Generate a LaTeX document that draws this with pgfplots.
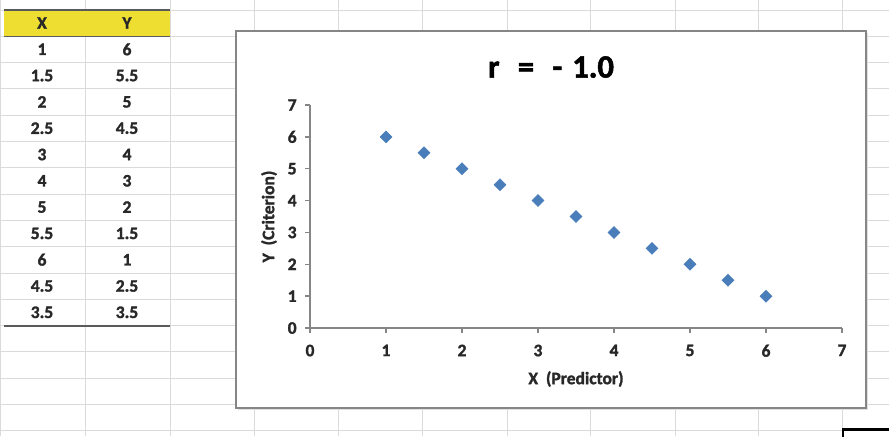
\documentclass[border=0pt]{standalone}
\usepackage{pgfplots}
\pgfplotsset{compat=1.18}
\usepackage{fontspec}
\setmainfont{Carlito}[BoldFeatures={FakeBold=1.6}]

\definecolor{gridc}{RGB}{218,218,218}
\definecolor{hdr}{RGB}{238,222,50}
\definecolor{darkb}{RGB}{90,90,90}
\definecolor{chartb}{RGB}{134,134,134}
\definecolor{axisc}{RGB}{134,134,134}
\definecolor{markc}{RGB}{74,126,187}
\definecolor{celltxt}{RGB}{40,40,40}

\begin{document}
\begin{tikzpicture}[x=0.6pt,y=-0.6pt]
\useasboundingbox (0,0) rectangle (889,436);
\clip (0,0) rectangle (889,436);

% sheet grid
\foreach \k in {0,...,16}
  \draw[gridc, line width=0.6pt] (0,{10+26.3*\k}) -- (889,{10+26.3*\k});
\foreach \c in {1,85,170,254,338,422,507,590,675,758,842}
  \draw[gridc, line width=0.6pt] (\c,0) -- (\c,436);

% table header
\fill[hdr] (4,10) rectangle (170,36.3);
\draw[darkb, line width=0.9pt] (4,10) -- (170,10);
\draw[darkb, line width=0.9pt] (4,36.3) -- (170,36.3);
\draw[darkb, line width=1.1pt] (4,325.6) -- (170,325.6);

% table text
\begin{scope}[every node/.style={font=\fontsize{10.5}{12}\selectfont\bfseries, text=celltxt}]
\node at (42,23) {X};
\node at (127,23) {Y};
\foreach \xv/\yv [count=\i] in {1/6,1.5/5.5,2/5,2.5/4.5,3/4,4/3,5/2,5.5/1.5,6/1,4.5/2.5,3.5/3.5}{
  \node at (42,{23+26.3*\i}) {\xv};
  \node at (127,{23+26.3*\i}) {\yv};
}
\end{scope}

% selected cell
\draw[black, line width=1.4pt] (843,429.5) rectangle (900,450);

% chart area
\fill[black!12] (238,33) rectangle (868,410);
\filldraw[fill=white, draw=chartb, line width=0.7pt] (236,31) rectangle (866,408);

\node[font=\fontsize{19.5}{23}\selectfont\bfseries] at (551,67) {r\hspace{11pt}=\hspace{11pt}-\hspace{6pt}1.0};

\coordinate (O) at (310,328);
\begin{axis}[
    at={(O)}, anchor=south west,
    scale only axis,
    width=319.2pt, height=133.8pt,
    xmin=0, xmax=7, ymin=0, ymax=7,
    xtick={0,1,2,3,4,5,6,7},
    ytick={0,1,2,3,4,5,6,7},
    axis x line*=bottom,
    axis y line*=left,
    axis line style={-, draw=axisc, line width=0.8pt},
    tick align=outside,
    major tick length=3pt,
    tick style={draw=axisc, line width=0.8pt},
    /pgf/number format/assume math mode=true,
    tick label style={font=\fontsize{10.5}{12}\selectfont\bfseries, text=celltxt},
    xticklabel style={yshift=-3.5pt},
    yticklabel style={xshift=-1.5pt},
    xlabel={X\ \ (Predictor)},
    ylabel={Y\ \ (Criterion)},
    every axis x label/.style={at={(axis description cs:0.5,0)}, anchor=center,
        yshift=-30.6pt, font=\fontsize{10.5}{12}\selectfont\bfseries, text=celltxt},
    every axis y label/.style={at={(axis description cs:0,0.5)}, anchor=center,
        rotate=90, yshift=24.6pt, font=\fontsize{10.5}{12}\selectfont\bfseries, text=celltxt},
    clip=false,
]
\addplot[only marks, mark=square*, mark size=2.5pt,
    mark options={rotate=45, fill=markc, draw=markc}]
coordinates {
 (1,6) (1.5,5.5) (2,5) (2.5,4.5) (3,4) (4,3) (5,2) (5.5,1.5) (6,1) (4.5,2.5) (3.5,3.5)
};
\end{axis}
\end{tikzpicture}
\end{document}
